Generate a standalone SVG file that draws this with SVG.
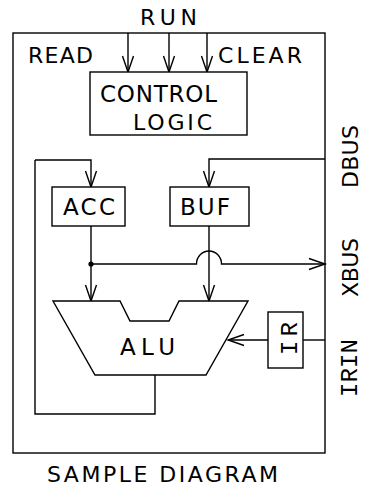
<svg xmlns="http://www.w3.org/2000/svg" width="365" height="488" viewBox="0 0 365 488">
<style>
.ln{fill:none;stroke:#000;stroke-width:1.4;stroke-linejoin:miter}
.bx{fill:#fff;stroke:#000;stroke-width:1.4}
.t{font-family:"DejaVu Sans","Liberation Sans",sans-serif;font-size:22px;fill:#000}
.b{font-size:23px}
.m{font-family:"Liberation Mono","DejaVu Sans Mono",monospace;font-size:24px;fill:#000}
</style>
<defs>
<marker id="ah" markerUnits="userSpaceOnUse" markerWidth="20" markerHeight="16" viewBox="-17 -8 19 16" refX="0" refY="0" orient="auto">
<path d="M-16,-5.5 L0,0 L-16,5.5" fill="none" stroke="#000" stroke-width="1.4"/>
</marker>
</defs>
<rect width="365" height="488" fill="#fff"/>
<g id="frame">
<rect class="bx" x="13" y="33" width="312" height="420" fill="none"/>
</g>
<g id="labels">
<text class="t" x="140" y="25" textLength="57" lengthAdjust="spacing">RUN</text>
<text class="t" x="28" y="63" textLength="65" lengthAdjust="spacing">READ</text>
<text class="t" x="218" y="63" textLength="84" lengthAdjust="spacing">CLEAR</text>
<text class="t" transform="translate(358,188) rotate(-90)" textLength="63" lengthAdjust="spacing">DBUS</text>
<text class="t" transform="translate(358,297) rotate(-90)" textLength="59" lengthAdjust="spacing">XBUS</text>
<text class="m" transform="translate(357,397) rotate(-90)" textLength="58" lengthAdjust="spacing">IRIN</text>
<text class="t" x="47" y="482" font-size="21" textLength="231" lengthAdjust="spacing">SAMPLE DIAGRAM</text>
</g>
<g id="connectors">
<path class="ln" d="M128,33 V72" marker-end="url(#ah)"/>
<path class="ln" d="M169,33 V72" marker-end="url(#ah)"/>
<path class="ln" d="M207,33 V72" marker-end="url(#ah)"/>
<path class="ln" d="M35,160 H91 V187" marker-end="url(#ah)"/>
<path class="ln" d="M325,159 H209 V187" marker-end="url(#ah)"/>
<path class="ln" d="M91,226 V301" marker-end="url(#ah)"/>
<path class="ln" d="M209,226 V301" marker-end="url(#ah)"/>
<path class="ln" d="M91,264 H196.5 A12.5,13 0 0 1 221.5,264 H325" marker-end="url(#ah)"/>
<circle cx="91" cy="264" r="2.6" fill="#000"/>
<path class="ln" d="M325,340 H303"/>
<path class="ln" d="M268,340 H228" marker-end="url(#ah)"/>
<path class="ln" d="M155,375 V414 H35 V160"/>
</g>
<g id="control">
<rect class="bx" x="90" y="72" width="157" height="63"/>
<text class="t b" x="100" y="102" textLength="117" lengthAdjust="spacing">CONTROL</text>
<text class="t" x="133" y="130" textLength="79" lengthAdjust="spacing">LOGIC</text>
</g>
<g id="acc">
<rect class="bx" x="52" y="187" width="73" height="39"/>
<text class="t b" x="63" y="215" textLength="52" lengthAdjust="spacing">ACC</text>
</g>
<g id="buf">
<rect class="bx" x="170" y="187" width="79" height="39"/>
<text class="t b" x="180" y="215" textLength="50" lengthAdjust="spacing">BUF</text>
</g>
<g id="alu">
<path class="bx" d="M53,301 H120 L130,321 H169 L179,301 H248 L206,375 H95 Z"/>
<text class="t b" x="120" y="355" textLength="55" lengthAdjust="spacing">ALU</text>
</g>
<g id="ir">
<rect class="bx" x="268" y="312" width="35" height="56"/>
<text class="m" transform="translate(297,355) rotate(-90)" textLength="33" lengthAdjust="spacing">IR</text>
</g>
</svg>
